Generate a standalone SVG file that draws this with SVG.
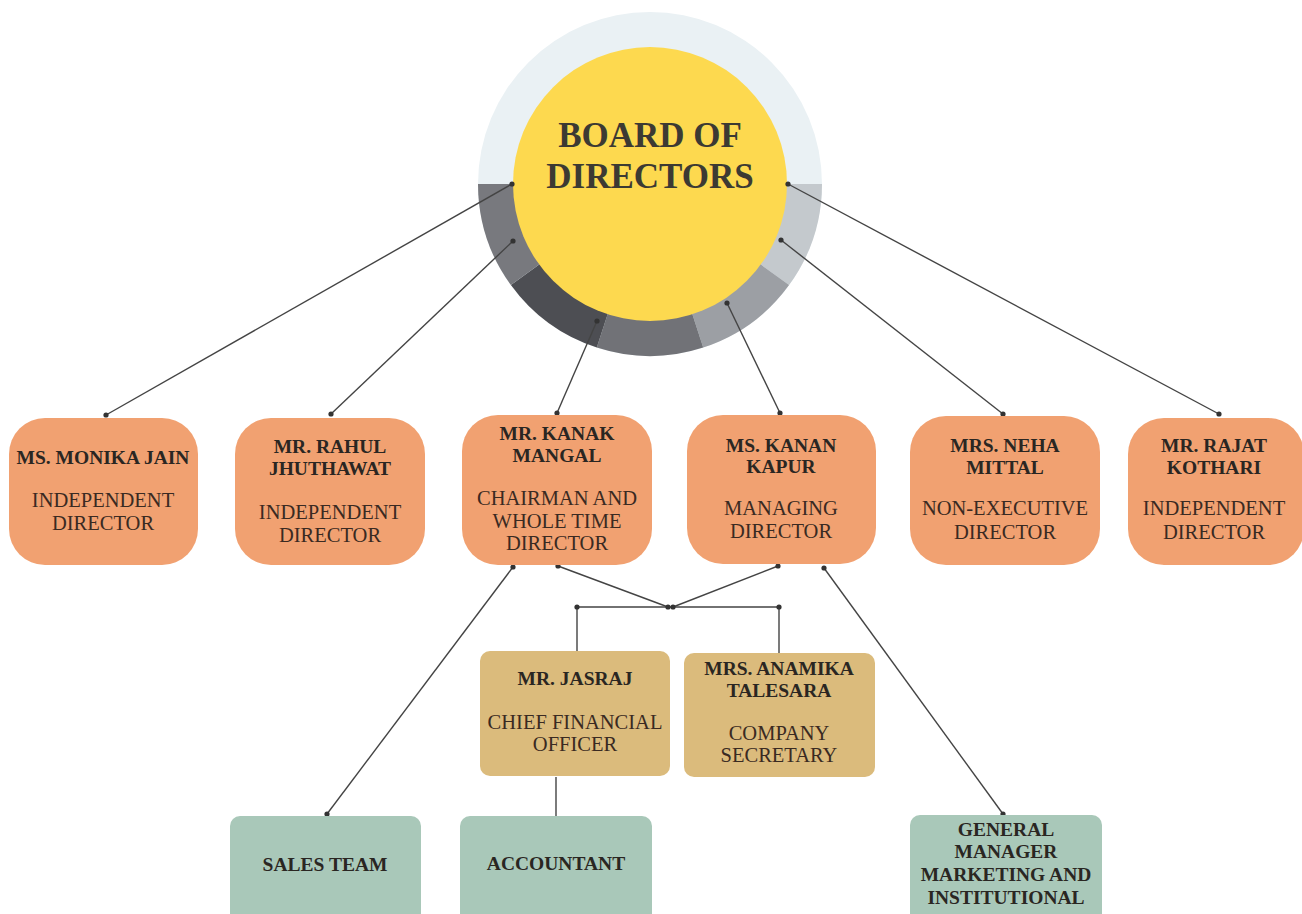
<svg xmlns="http://www.w3.org/2000/svg" width="1302" height="914" viewBox="0 0 1302 914">
<style>
.o{fill:#f1a171}
.t{fill:#dbbb7c}
.g{fill:#a9c8b9}
.n{font-family:"Liberation Serif",serif;font-weight:bold;font-size:19.5px;fill:#2a2622;text-anchor:middle}
.r{font-family:"Liberation Serif",serif;font-size:20.5px;fill:#3a2a22;text-anchor:middle}
.b{font-family:"Liberation Serif",serif;font-weight:bold;font-size:35px;fill:#3c3a33;text-anchor:middle}
.c line,.c path{stroke:#444;stroke-width:1.4;fill:none}
.c circle{fill:#333}
</style>
<rect width="1302" height="914" fill="#fff"/>
<g id="board">
<circle cx="650" cy="184" r="172" fill="#eaf1f4"/>
<path d="M650,184 L822,184 A172,172 0 0 1 789.1,285.1 Z" fill="#c4c9cd"/>
<path d="M650,184 L789.1,285.1 A172,172 0 0 1 703.2,347.6 Z" fill="#9c9fa4"/>
<path d="M650,184 L703.2,347.6 A172,172 0 0 1 596.8,347.6 Z" fill="#717277"/>
<path d="M650,184 L596.8,347.6 A172,172 0 0 1 510.9,285.1 Z" fill="#4d4e53"/>
<path d="M650,184 L510.9,285.1 A172,172 0 0 1 478,184 Z" fill="#78797e"/>
<circle cx="650" cy="184" r="137" fill="#fdd94f"/>
<text class="b" x="650" y="147">BOARD OF</text>
<text class="b" x="650" y="188">DIRECTORS</text>
</g>
<g class="c" id="connectors">
<line x1="512" y1="184" x2="106" y2="415"/>
<line x1="513" y1="241" x2="331" y2="414"/>
<line x1="597" y1="321" x2="557" y2="413"/>
<line x1="727" y1="303" x2="780" y2="413"/>
<line x1="781" y1="240" x2="1003" y2="414"/>
<line x1="788" y1="184" x2="1219" y2="414"/>
<line x1="558" y1="566" x2="668" y2="607"/>
<line x1="778" y1="566" x2="673" y2="607"/>
<path d="M577,651 V607 H779 V653"/>
<line x1="513" y1="567" x2="327" y2="814"/>
<line x1="824" y1="568" x2="1003" y2="814"/>
<line x1="556" y1="777" x2="556" y2="817"/>
<circle cx="512" cy="184" r="2.6"/><circle cx="106" cy="415" r="2.6"/>
<circle cx="513" cy="241" r="2.6"/><circle cx="331" cy="414" r="2.6"/>
<circle cx="597" cy="321" r="2.6"/><circle cx="557" cy="413" r="2.6"/>
<circle cx="727" cy="303" r="2.6"/><circle cx="780" cy="413" r="2.6"/>
<circle cx="781" cy="240" r="2.6"/><circle cx="1003" cy="414" r="2.6"/>
<circle cx="788" cy="184" r="2.6"/><circle cx="1219" cy="414" r="2.6"/>
<circle cx="558" cy="566" r="2.6"/><circle cx="668" cy="607" r="2.6"/>
<circle cx="778" cy="566" r="2.6"/><circle cx="673" cy="607" r="2.6"/>
<circle cx="577" cy="607" r="2.6"/><circle cx="779" cy="607" r="2.6"/>
<circle cx="513" cy="567" r="2.6"/><circle cx="327" cy="814" r="2.6"/>
<circle cx="824" cy="568" r="2.6"/><circle cx="1003" cy="814" r="2.6"/>
</g>
<g id="monika">
<rect class="o" x="9" y="418" width="189" height="147" rx="36"/>
<text class="n" x="103" y="464">MS. MONIKA JAIN</text>
<text class="r" x="103" y="507">INDEPENDENT</text>
<text class="r" x="103" y="530">DIRECTOR</text>
</g>
<g id="rahul">
<rect class="o" x="235" y="418" width="190" height="147" rx="36"/>
<text class="n" x="330" y="453">MR. RAHUL</text>
<text class="n" x="330" y="475">JHUTHAWAT</text>
<text class="r" x="330" y="519">INDEPENDENT</text>
<text class="r" x="330" y="542">DIRECTOR</text>
</g>
<g id="kanak">
<rect class="o" x="462" y="415" width="190" height="150" rx="36"/>
<text class="n" x="557" y="440">MR. KANAK</text>
<text class="n" x="557" y="462">MANGAL</text>
<text class="r" x="557" y="505">CHAIRMAN AND</text>
<text class="r" x="557" y="528">WHOLE TIME</text>
<text class="r" x="557" y="550">DIRECTOR</text>
</g>
<g id="kanan">
<rect class="o" x="687" y="415" width="189" height="149" rx="36"/>
<text class="n" x="781" y="452">MS. KANAN</text>
<text class="n" x="781" y="473">KAPUR</text>
<text class="r" x="781" y="515">MANAGING</text>
<text class="r" x="781" y="538">DIRECTOR</text>
</g>
<g id="neha">
<rect class="o" x="910" y="416" width="190" height="149" rx="36"/>
<text class="n" x="1005" y="452">MRS. NEHA</text>
<text class="n" x="1005" y="474">MITTAL</text>
<text class="r" x="1005" y="515">NON-EXECUTIVE</text>
<text class="r" x="1005" y="539">DIRECTOR</text>
</g>
<g id="rajat">
<rect class="o" x="1128" y="418" width="176" height="147" rx="36"/>
<text class="n" x="1214" y="452">MR. RAJAT</text>
<text class="n" x="1214" y="474">KOTHARI</text>
<text class="r" x="1214" y="515">INDEPENDENT</text>
<text class="r" x="1214" y="539">DIRECTOR</text>
</g>
<g id="jasraj">
<rect class="t" x="480" y="651" width="190" height="125" rx="10"/>
<text class="n" x="575" y="685">MR. JASRAJ</text>
<text class="r" x="575" y="729">CHIEF FINANCIAL</text>
<text class="r" x="575" y="751">OFFICER</text>
</g>
<g id="anamika">
<rect class="t" x="684" y="653" width="191" height="124" rx="10"/>
<text class="n" x="779" y="675">MRS. ANAMIKA</text>
<text class="n" x="779" y="697">TALESARA</text>
<text class="r" x="779" y="740">COMPANY</text>
<text class="r" x="779" y="762">SECRETARY</text>
</g>
<g id="sales">
<rect class="g" x="230" y="816" width="191" height="110" rx="10"/>
<text class="n" x="325" y="871">SALES TEAM</text>
</g>
<g id="accountant">
<rect class="g" x="460" y="816" width="192" height="110" rx="10"/>
<text class="n" x="556" y="870">ACCOUNTANT</text>
</g>
<g id="gm">
<rect class="g" x="910" y="815" width="192" height="110" rx="10"/>
<text class="n" x="1006" y="836">GENERAL</text>
<text class="n" x="1006" y="858">MANAGER</text>
<text class="n" x="1006" y="881">MARKETING AND</text>
<text class="n" x="1006" y="904">INSTITUTIONAL</text>
</g>
</svg>
